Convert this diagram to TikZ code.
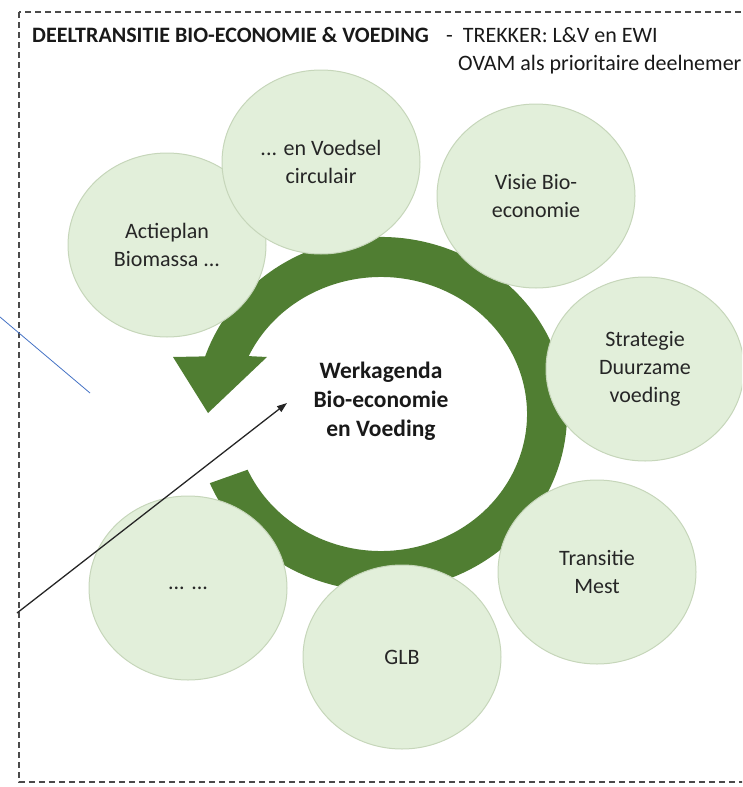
\documentclass[tikz,border=0pt]{standalone}
\usepackage{fontspec}
\setmainfont{Carlito}
\usetikzlibrary{arrows.meta, shapes.geometric, calc}

\begin{document}
\begin{tikzpicture}[
    x=1pt, y=-1pt,
    every node/.style={font=\fontsize{22}{28}\selectfont},
]

% ---------------------------------------------------------------- colours
\definecolor{ringgreen}{HTML}{507E32}   % the circular arrow
\definecolor{topicfill}{HTML}{E2EFDA}   % the work items
\definecolor{topicline}{HTML}{C6D6BA}
\definecolor{framegray}{HTML}{4A4A4A}
\definecolor{textdark}{HTML}{262626}
\definecolor{pointerblue}{HTML}{4472C4}

% ---------------------------------------------------------------- styles
\tikzset{
    topic/.style={
        ellipse, minimum width=198pt, minimum height=184pt, inner sep=0pt,
        fill=topicfill, draw=topicline, line width=1pt,
        text=textdark, align=center, font=\fontsize{22}{28}\selectfont,
    },
    hubtext/.style={
        align=center, text=black!90,
        font=\fontsize{23.5}{29}\selectfont\bfseries,
    },
    heading/.style={
        anchor=base west, inner sep=0pt, text=black!90,
        font=\fontsize{22}{28}\selectfont,
    },
}

% ================================================================
% GEOMETRY (1pt = 1px, y pointing down)
%   frame         x in [19, off page], y in [12, 782]
%   ring centre   (381, 414), outer 186 x 177, inner 146 x 137
%   work items    ellipses 198 x 184 around the ring
% ================================================================

\useasboundingbox (0,0) rectangle (742,787);
\clip (0,0) rectangle (742,787);

% ---------------------------------------------------------------- frame
\draw[framegray, line width=1.6pt, dash pattern=on 6pt off 4pt]
    (19,12) rectangle (770,782);

% ---------------------------------------------------------------- stray pointer
\coordinate (blueA) at (0,317);
\coordinate (blueB) at (90,393);
\draw[pointerblue, line width=0.8pt] (blueA) -- (blueB);

% ---------------------------------------------------------------- the ring
\coordinate (hub) at (381,414);
\fill[ringgreen]
    ($(hub)+(157:186 and 177)$)
    arc[start angle=157, end angle=-161, x radius=186, y radius=177]
    -- (173,357) -- (208,413) -- (267,357)
    -- ($(hub)+(-155:146 and 137)$)
    arc[start angle=-155, end angle=156, x radius=146, y radius=137]
    -- cycle;

\node[hubtext] (agenda) at (381,401)
    {Werkagenda\\Bio-economie\\en Voeding};

% ---------------------------------------------------------------- work items
\node[topic] (biomassa) at (167,245) {Actieplan\\Biomassa ...};
\node[topic] (voedsel)  at (321,162) {... en Voedsel\\circulair};
\node[topic] (visie)    at (536,196) {Visie Bio-\\economie};
\node[topic] (strategie) at (645,369) {Strategie\\Duurzame\\voeding};
\node[topic] (mest)     at (597,572) {Transitie\\Mest};
\node[topic] (glb)      at (402,657) {GLB};
\node[topic] (overige)  at (188,588) {... ...};

% ---------------------------------------------------------------- pointer
\coordinate (pointA) at (17,613);
\coordinate (pointB) at (287,403);
\draw[-{Triangle[length=10pt, width=7pt]}, line width=1.3pt, black!85]
    (pointA) -- (pointB);

% ---------------------------------------------------------------- heading
\node[heading, font=\fontsize{22}{28}\selectfont\bfseries] (title)
    at (32,42) {DEELTRANSITIE BIO-ECONOMIE \& VOEDING};
\node[heading] (trekker) at (446,42) {-\ \ TREKKER: L\&V en EWI};
\node[heading] (ovam) at (458,70) {OVAM als prioritaire deelnemer};

\end{tikzpicture}
\end{document}
